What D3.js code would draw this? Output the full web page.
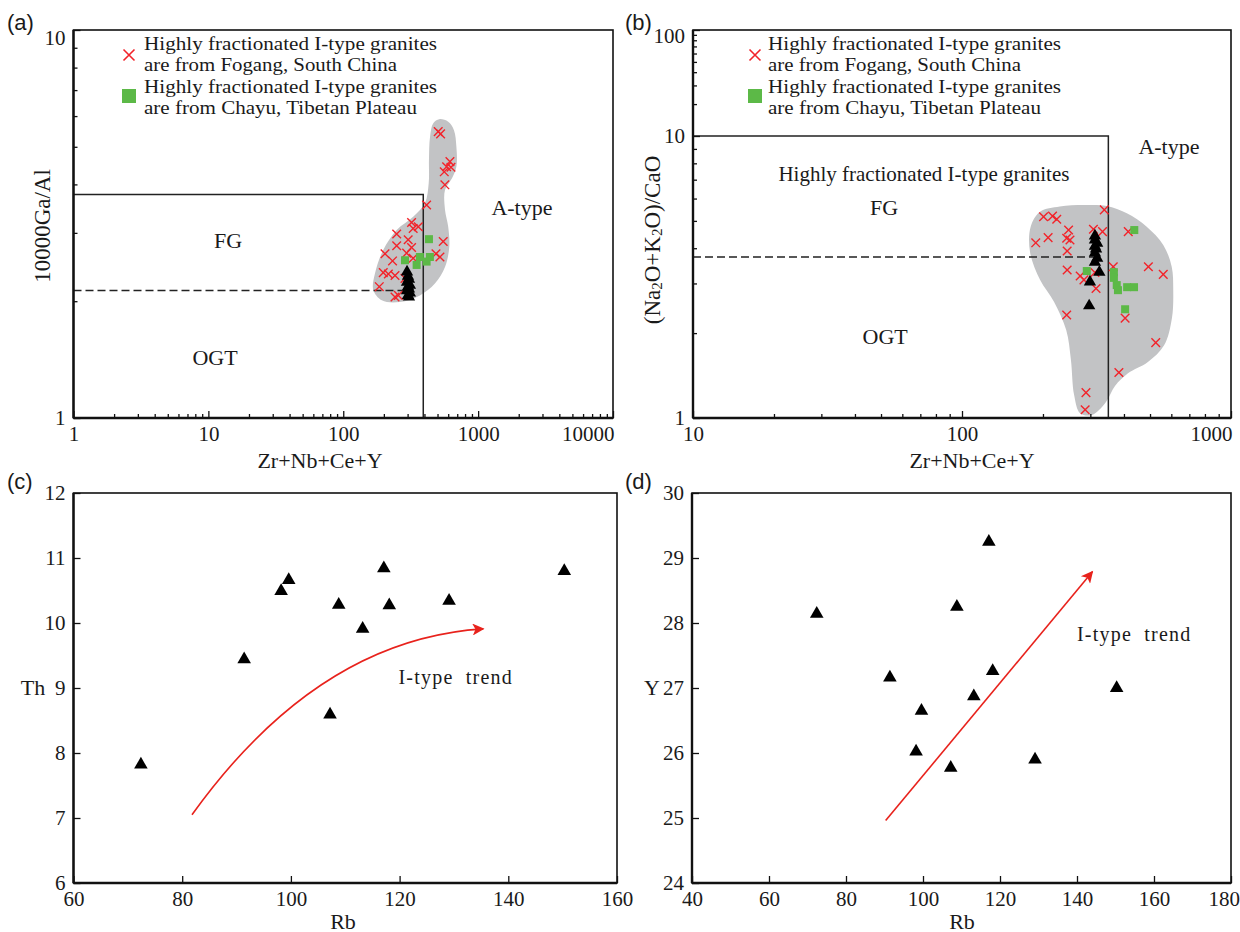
<!DOCTYPE html>
<html><head><meta charset="utf-8">
<script src="https://cdn.jsdelivr.net/npm/d3@7/dist/d3.min.js"></script>
<style>
html,body{margin:0;padding:0;background:#fff;}
svg text{font-family:"Liberation Serif","Times New Roman",serif;fill:#1a1a1a;}
svg text.plab{font-family:"Liberation Sans",Arial,sans-serif;}
</style></head><body>
<svg id="chart" width="1240" height="932"></svg>
<script>
// ---------------- data ----------------
// (a) 10000Ga/Al vs Zr+Nb+Ce+Y
const fogangA_sum  = [506,527,618,584,629,561,567,415,321,360,330,249,303,249,321,551,204,232,295,330,487,521,198,216,242,185,256,242,287];
const fogangA_gaal = [5.47,5.40,4.58,4.44,4.43,4.31,3.99,3.54,3.19,3.11,3.08,2.98,2.88,2.78,2.75,2.85,2.65,2.54,2.66,2.58,2.65,2.60,2.37,2.35,2.33,2.18,2.07,2.05,2.29];
const chayuA_sum   = [432,287,370,439,350,415];
const chayuA_gaal  = [2.89,2.55,2.60,2.60,2.48,2.53];
const sampleA_sum  = [297,302,307,297,312,302,307,297,312,302,307];
const sampleA_gaal = [2.38,2.32,2.28,2.24,2.20,2.18,2.15,2.13,2.10,2.07,2.05];
const fieldA_sum   = [515,600,662,690,690,640,568,568,600,611,568,478,370,263,193,167,172,198,249,330,403,430,432,440,465];
const fieldA_gaal  = [5.89,5.80,5.52,5.00,4.44,4.15,3.87,3.44,3.11,2.76,2.45,2.22,2.07,1.99,2.01,2.14,2.36,2.71,3.05,3.30,3.58,4.03,4.62,5.31,5.75];
const aSolid  = [[1,3.77],[392,3.77],[392,1]];
const aDashed = [[1,2.13],[300,2.13]];

// (b) (Na2O+K2O)/CaO vs Zr+Nb+Ce+Y
const fogangB_sum   = [201,217,225,338,188,209,249,245,252,308,333,415,246,246,275,284,312,315,365,493,560,245,404,525,383,289,287];
const fogangB_ratio = [5.17,5.20,5.07,5.47,4.18,4.36,4.64,4.34,4.28,4.67,4.58,4.58,3.91,3.35,3.19,3.09,3.28,2.88,3.44,3.44,3.23,2.32,2.26,1.85,1.45,1.23,1.07];
const chayuB_sum    = [437,291,367,367,376,380,411,436,404];
const chayuB_ratio  = [4.64,3.32,3.29,3.14,2.96,2.84,2.91,2.91,2.43];
const sampleB_sum   = [312,312,318,312,315,312,318,312,324,299,297];
const sampleB_ratio = [4.42,4.28,4.17,4.07,3.98,3.85,3.69,3.57,3.29,3.04,2.50];
const fieldB_sum    = [195,231,283,345,410,486,560,602,610,603,564,491,414,371,343,304,275,261,254,244,220,195,179,180];
const fieldB_ratio  = [5.39,5.62,5.69,5.65,5.32,4.77,4.11,3.44,2.84,2.26,1.81,1.58,1.44,1.30,1.14,1.025,1.04,1.21,1.61,2.05,2.58,3.09,3.88,4.77];
const bSolid  = [[10,10],[350,10],[350,1]];
const bDashed = [[10,3.72],[310,3.72]];

// (c),(d) Th and Y vs Rb
const rb = [72.4,91.4,98.2,99.6,108.8,107.2,113.2,117.1,118.1,129.1,150.3];
const th = [7.82,9.44,10.49,10.66,10.28,8.59,9.91,10.84,10.27,10.34,10.80];
const yv = [28.14,27.16,26.02,26.65,28.25,25.77,26.87,29.25,27.26,25.90,27.00];
const trendC = [[81.8,7.05],[105,9.75],[135.4,9.91]];
const trendD = [[90.3,24.96],[144.0,28.79]];

// tick labels
const ticksA_x = [1,10,100,1000,10000], ticksA_y = [1,10];
const ticksB_x = [10,100,1000], ticksB_y = [1,10,100];
const ticksC_x = [60,80,100,120,140,160], ticksC_y = [6,7,8,9,10,11,12];
const ticksD_x = [40,60,80,100,120,140,160,180], ticksD_y = [24,25,26,27,28,29,30];

const legendLines = ["Highly fractionated I-type granites","are from Fogang, South China","Highly fractionated I-type granites","are from Chayu, Tibetan Plateau"];

// ---------------- drawing ----------------
const svg = d3.select("#chart");
const RED = "#f2232a", GREEN = "#5cb947", GRAY = "#c2c3c5", ARROW = "#e8221c";

svg.append("defs").append("marker")
  .attr("id","ah").attr("viewBox","0 0 10 10").attr("refX",9).attr("refY",5)
  .attr("markerWidth",16).attr("markerHeight",12).attr("markerUnits","userSpaceOnUse")
  .attr("orient","auto")
  .append("path").attr("d","M0,0 L10,5 L0,10 L2.5,5 Z").attr("fill",ARROW);

function axes(g, x, y, xMajor, xMinor, yMajor, yMinor, fmt) {
  const [x0,x1] = [x.range()[0], x.range()[x.range().length-1]];
  const yr = y.range(); const y0 = yr[0], y1 = yr[yr.length-1];
  const bx = g.append("g").attr("transform",`translate(0,${y0})`);
  bx.call(d3.axisBottom(x).tickValues(xMajor).tickSizeInner(-7).tickSizeOuter(0).tickPadding(8).tickFormat(fmt));
  if (xMinor) bx.append("g").call(d3.axisBottom(x).tickValues(xMinor).tickSizeInner(-4).tickSizeOuter(0).tickFormat(""));
  const ly = g.append("g").attr("transform",`translate(${x0},0)`);
  ly.call(d3.axisLeft(y).tickValues(yMajor).tickSizeInner(-7).tickSizeOuter(0).tickPadding(8).tickFormat(fmt));
  if (yMinor) ly.append("g").call(d3.axisLeft(y).tickValues(yMinor).tickSizeInner(-4).tickSizeOuter(0).tickFormat(""));
  g.selectAll(".domain").remove();
  g.selectAll(".tick line").attr("stroke","#111").attr("stroke-width",1.3);
  g.selectAll(".tick text").attr("font-size",21).attr("font-family","Liberation Serif, serif").attr("fill","#1a1a1a");
  g.append("rect").attr("x",x0).attr("y",y1).attr("width",x1-x0).attr("height",y0-y1)
    .attr("fill","none").attr("stroke","#111").attr("stroke-width",1.6);
  g.append("line").attr("x1",x0).attr("x2",x1).attr("y1",y0).attr("y2",y0).attr("stroke","#111").attr("stroke-width",2.4);
  g.append("line").attr("x1",x0).attr("x2",x0).attr("y1",y0).attr("y2",y1).attr("stroke","#111").attr("stroke-width",2.4);
  return {bx, ly};
}
function minorLog(scale, majors) {
  return scale.ticks().filter(v => !majors.includes(v));
}
function crosses(g, xs, ys, x, y, s) {
  g.selectAll(null).data(xs).enter().append("path")
    .attr("transform",(d,i)=>`translate(${x(d)},${y(ys[i])})`)
    .attr("d",`M${-s},${-s}L${s},${s}M${-s},${s}L${s},${-s}`)
    .attr("stroke",RED).attr("stroke-width",1.4).attr("fill","none");
}
function squares(g, xs, ys, x, y, s) {
  g.selectAll(null).data(xs).enter().append("rect")
    .attr("x",d=>x(d)-s/2).attr("y",(d,i)=>y(ys[i])-s/2).attr("width",s).attr("height",s)
    .attr("fill",GREEN);
}
function triangles(g, xs, ys, x, y, size) {
  g.selectAll(null).data(xs).enter().append("path")
    .attr("transform",(d,i)=>`translate(${x(d)},${y(ys[i])})`)
    .attr("d",d3.symbol(d3.symbolTriangle, size)()).attr("fill","#000");
}
function polyline(g, pts, x, y, dashed) {
  g.append("path").attr("d",d3.line().x(d=>x(d[0])).y(d=>y(d[1]))(pts))
    .attr("fill","none").attr("stroke","#222").attr("stroke-width",1.5)
    .attr("stroke-dasharray",dashed?"8,4":null);
}
function field(g, xs, ys, x, y) {
  const pts = xs.map((d,i)=>[x(d), y(ys[i])]);
  g.append("path").attr("d",d3.line().curve(d3.curveCatmullRomClosed.alpha(0.5))(pts)).attr("fill",GRAY);
}
function txt(g, x, y, s, size, anchor) {
  return g.append("text").attr("x",x).attr("y",y).attr("font-size",size).attr("text-anchor",anchor||"middle")
    .attr("dominant-baseline","central").text(s);
}
function legend(g, lx, tx) {
  g.append("path").attr("transform",`translate(${lx},55)`).attr("d","M-5.5,-5.5L5.5,5.5M-5.5,5.5L5.5,-5.5")
    .attr("stroke",RED).attr("stroke-width",1.6);
  g.append("rect").attr("x",lx-7).attr("y",89).attr("width",14).attr("height",14).attr("fill",GREEN);
  const base = [50,71,93,114];
  const lens = [293,253,293,273];
  legendLines.forEach((s,i)=> g.append("text").attr("x",tx).attr("y",base[i]).attr("font-size",18.5)
    .attr("textLength",lens[i]).attr("lengthAdjust","spacingAndGlyphs").text(s));
}
const fmtNum = d3.format("d");

// ----- panel (a) -----
{
  const g = svg.append("g");
  const x = d3.scaleLog().domain([1,10000]).range([73.5,613]);
  const y = d3.scaleLog().domain([1,10]).range([418,30]);
  field(g, fieldA_sum, fieldA_gaal, x, y);
  polyline(g, aSolid, x, y, false);
  polyline(g, aDashed, x, y, true);
  const ax = axes(g, x, y, ticksA_x, minorLog(x,ticksA_x), ticksA_y, minorLog(y,ticksA_y), fmtNum);
  ax.ly.selectAll(".tick text").filter(d=>d===10).attr("dy","0.7em");
  ax.bx.selectAll(".tick text").filter(d=>d===10000).attr("text-anchor","end").attr("dx","0.05em");
  crosses(g, fogangA_sum, fogangA_gaal, x, y, 4.3);
  squares(g, chayuA_sum, chayuA_gaal, x, y, 8);
  triangles(g, sampleA_sum, sampleA_gaal, x, y, 66);
  legend(g, 129, 144);
  txt(g, x(14), y(2.86), "FG", 22);
  txt(g, x(11.2), y(1.436), "OGT", 22);
  txt(g, x(2113), y(3.48), "A-type", 22);
  txt(g, 320, 460, "Zr+Nb+Ce+Y", 22);
  g.append("text").attr("transform","translate(42,226) rotate(-90)").attr("text-anchor","middle")
    .attr("dominant-baseline","central").attr("font-size",23).text("10000Ga/Al");
  g.append("text").attr("class","plab").attr("x",7).attr("y",30).attr("font-size",22).text("(a)");
}

// ----- panel (b) -----
{
  const g = svg.append("g");
  const x = d3.scaleLog().domain([10,1000]).range([693,1231]);
  const y = d3.scaleLog().domain([1,10,100]).range([418,136,30]);
  field(g, fieldB_sum, fieldB_ratio, x, y);
  polyline(g, bSolid, x, y, false);
  polyline(g, bDashed, x, y, true);
  const yminor = d3.scaleLog().domain([1,100]).ticks().filter(v=>!ticksB_y.includes(v));
  const ax = axes(g, x, y, ticksB_x, minorLog(x,ticksB_x), ticksB_y, yminor, fmtNum);
  ax.ly.selectAll(".tick text").filter(d=>d===100).attr("dy","0.6em");
  ax.bx.selectAll(".tick text").filter(d=>d===1000).attr("text-anchor","end").attr("dx","0.05em");
  crosses(g, fogangB_sum, fogangB_ratio, x, y, 4.3);
  squares(g, chayuB_sum, chayuB_ratio, x, y, 8);
  triangles(g, sampleB_sum, sampleB_ratio, x, y, 66);
  legend(g, 755, 768);
  txt(g, x(588), y(9.21), "A-type", 22);
  txt(g, x(72.2), y(7.33), "Highly fractionated I-type granites", 21);
  txt(g, x(51.3), y(5.6), "FG", 22);
  txt(g, x(51.8), y(1.94), "OGT", 22);
  txt(g, 972, 460, "Zr+Nb+Ce+Y", 22);
  const t = g.append("text").attr("transform","translate(652,240) rotate(-90)").attr("text-anchor","middle")
    .attr("dominant-baseline","central").attr("font-size",23);
  t.append("tspan").text("(Na");
  t.append("tspan").attr("font-size",15).attr("dy",5).text("2");
  t.append("tspan").attr("dy",-5).text("O+K");
  t.append("tspan").attr("font-size",15).attr("dy",5).text("2");
  t.append("tspan").attr("dy",-5).text("O)/CaO");
  g.append("text").attr("class","plab").attr("x",625).attr("y",30).attr("font-size",22).text("(b)");
}

// ----- panel (c) -----
{
  const g = svg.append("g");
  const x = d3.scaleLinear().domain([60,160]).range([73.5,617]);
  const y = d3.scaleLinear().domain([6,12]).range([883,493]);
  axes(g, x, y, ticksC_x, null, ticksC_y, null, fmtNum);
  g.append("path").attr("d",`M${x(trendC[0][0])},${y(trendC[0][1])}Q${x(trendC[1][0])},${y(trendC[1][1])} ${x(trendC[2][0])},${y(trendC[2][1])}`)
    .attr("fill","none").attr("stroke",ARROW).attr("stroke-width",1.6).attr("marker-end","url(#ah)");
  triangles(g, rb, th, x, y, 80);
  g.append("text").attr("x",x(119.8)).attr("y",y(9.17)).attr("font-size",20).attr("letter-spacing",1.2)
    .attr("dominant-baseline","central").attr("xml:space","preserve").text("I-type  trend");
  txt(g, 343, 921, "Rb", 22);
  txt(g, 33, 687, "Th", 22);
  g.append("text").attr("class","plab").attr("x",7).attr("y",489).attr("font-size",22).text("(c)");
}

// ----- panel (d) -----
{
  const g = svg.append("g");
  const x = d3.scaleLinear().domain([40,180]).range([692,1231]);
  const y = d3.scaleLinear().domain([24,30]).range([883,493]);
  const ax = axes(g, x, y, ticksD_x, null, ticksD_y, null, fmtNum);
  ax.bx.selectAll(".tick text").filter(d=>d===180).attr("text-anchor","end").attr("dx","0.4em");
  g.append("path").attr("d",d3.line().x(d=>x(d[0])).y(d=>y(d[1]))(trendD))
    .attr("fill","none").attr("stroke",ARROW).attr("stroke-width",1.6).attr("marker-end","url(#ah)");
  triangles(g, rb, yv, x, y, 80);
  g.append("text").attr("x",x(140)).attr("y",y(27.83)).attr("font-size",20).attr("letter-spacing",1.2)
    .attr("dominant-baseline","central").attr("xml:space","preserve").text("I-type  trend");
  txt(g, 962, 921, "Rb", 22);
  txt(g, 652, 687, "Y", 22);
  g.append("text").attr("class","plab").attr("x",625).attr("y",489).attr("font-size",22).text("(d)");
}
</script>
</body></html>
